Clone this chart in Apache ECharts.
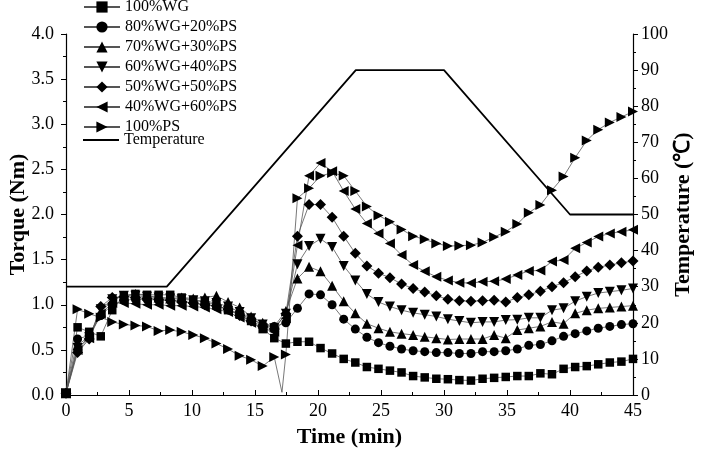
<!DOCTYPE html>
<html>
<head>
<meta charset="utf-8">
<script src="https://cdn.jsdelivr.net/npm/echarts@6/dist/echarts.min.js"></script>
<style>
html,body{margin:0;padding:0;background:#fff;}
#chart{width:709px;height:457px;}
</style>
</head>
<body>
<div id="chart"></div>
<script>
// Time (min) of each recorded point
const time = [0, 0.92, 1.84, 2.76, 3.67, 4.59, 5.51, 6.43, 7.35, 8.27,
  9.18, 10.10, 11.02, 11.94, 12.86, 13.78, 14.69, 15.61, 16.53, 17.45,
  18.37, 19.29, 20.20, 21.12, 22.04, 22.96, 23.88, 24.80, 25.71, 26.63,
  27.55, 28.47, 29.39, 30.31, 31.22, 32.14, 33.06, 33.98, 34.90, 35.82,
  36.73, 37.65, 38.57, 39.49, 40.41, 41.33, 42.24, 43.16, 44.08, 45.00];

const wg100 = [0.02, 0.75, 0.70, 0.65, 0.94, 1.10, 1.12, 1.11, 1.11, 1.11,
  1.08, 1.05, 1.03, 1.00, 0.94, 0.89, 0.82, 0.73, 0.63, 0.57,
  0.59, 0.59, 0.52, 0.46, 0.40, 0.36, 0.31, 0.29, 0.27, 0.25,
  0.21, 0.195, 0.18, 0.175, 0.165, 0.16, 0.18, 0.19, 0.20, 0.21,
  0.21, 0.24, 0.23, 0.29, 0.31, 0.32, 0.34, 0.36, 0.37, 0.40];

const wg80ps20 = [0.02, 0.62, 0.66, 0.88, 1.00, 1.05, 1.06, 1.06, 1.05, 1.05,
  1.04, 1.02, 1.00, 0.98, 0.95, 0.90, 0.84, 0.78, 0.76, 0.80,
  0.96, 1.12, 1.11, 1.00, 0.84, 0.73, 0.64, 0.58, 0.54, 0.51,
  0.49, 0.48, 0.47, 0.47, 0.46, 0.46, 0.48, 0.48, 0.49, 0.51,
  0.55, 0.56, 0.60, 0.65, 0.68, 0.71, 0.74, 0.76, 0.78, 0.79];

const wg70ps30 = [0.02, 0.55, 0.65, 0.92, 1.05, 1.10, 1.12, 1.10, 1.08, 1.07,
  1.08, 1.07, 1.08, 1.10, 1.03, 0.97, 0.87, 0.80, 0.76, 0.93,
  1.29, 1.42, 1.37, 1.21, 1.04, 0.905, 0.79, 0.74, 0.70, 0.68,
  0.665, 0.645, 0.63, 0.615, 0.62, 0.62, 0.62, 0.665, 0.63, 0.72,
  0.74, 0.76, 0.81, 0.79, 0.905, 0.94, 0.96, 0.97, 0.98, 0.99];

const wg60ps40 = [0.02, 0.52, 0.64, 0.95, 1.06, 1.10, 1.10, 1.09, 1.08, 1.07,
  1.06, 1.05, 1.04, 1.02, 0.98, 0.92, 0.85, 0.78, 0.74, 0.90,
  1.45, 1.65, 1.73, 1.64, 1.43, 1.27, 1.12, 1.03, 0.98, 0.94,
  0.91, 0.89, 0.87, 0.84, 0.82, 0.80, 0.81, 0.81, 0.83, 0.835,
  0.855, 0.855, 0.94, 0.96, 1.04, 1.09, 1.13, 1.145, 1.16, 1.18];

const wg50ps50 = [0.02, 0.47, 0.62, 0.98, 1.08, 1.09, 1.08, 1.07, 1.06, 1.05,
  1.03, 1.02, 1.00, 0.99, 0.95, 0.88, 0.82, 0.76, 0.73, 0.90,
  1.76, 2.11, 2.11, 1.97, 1.76, 1.57, 1.43, 1.35, 1.30, 1.23,
  1.18, 1.14, 1.10, 1.06, 1.045, 1.04, 1.045, 1.05, 1.03, 1.08,
  1.11, 1.15, 1.20, 1.245, 1.31, 1.375, 1.415, 1.44, 1.465, 1.485];

const wg40ps60 = [0.02, 0.50, 0.63, 0.90, 1.02, 1.02, 1.01, 1.00, 1.00, 0.99,
  0.99, 0.98, 0.97, 0.95, 0.92, 0.86, 0.80, 0.74, 0.70, 0.85,
  1.66, 2.43, 2.57, 2.48, 2.26, 2.06, 1.90, 1.79, 1.68, 1.55,
  1.44, 1.37, 1.31, 1.27, 1.245, 1.24, 1.255, 1.26, 1.285, 1.33,
  1.375, 1.38, 1.48, 1.495, 1.625, 1.69, 1.755, 1.79, 1.81, 1.83];

const ps100 = [0.02, 0.95, 0.90, 0.86, 0.81, 0.78, 0.77, 0.76, 0.71, 0.72,
  0.70, 0.665, 0.63, 0.57, 0.51, 0.435, 0.39, 0.32, 0.42, 0.45,
  2.18, 2.29, 2.43, 2.46, 2.43, 2.26, 2.09, 1.99, 1.92, 1.835,
  1.76, 1.725, 1.68, 1.65, 1.655, 1.66, 1.69, 1.75, 1.81, 1.895,
  2.02, 2.105, 2.27, 2.42, 2.63, 2.82, 2.94, 3.02, 3.08, 3.14];
// unmarked dip of the 100%PS trace between two recorded points
const ps100Dip = [17.14, 0.03];

// Temperature program
const tempTime = [0, 8, 23, 30, 40, 45];
const tempValue = [30, 30, 90, 90, 50, 50];

const seriesNames = ['100%WG', '80%WG+20%PS', '70%WG+30%PS', '60%WG+40%PS',
  '50%WG+50%PS', '40%WG+60%PS', '100%PS', 'Temperature'];

const FONT = '"Liberation Serif", "Times New Roman", serif';

function pairs(xs, ys) { return xs.map((x, i) => [x, ys[i]]); }

const psData = pairs(time, ps100);
psData.splice(19, 0, { value: ps100Dip, symbol: 'none' });

function torqueSeries(name, data, symbol, size, rotate) {
  return {
    name: name, type: 'line', data: data, yAxisIndex: 0,
    symbol: symbol, symbolSize: size, symbolRotate: rotate || 0,
    showAllSymbol: true,
    lineStyle: { color: '#555', width: 0.8 },
    itemStyle: { color: '#000', borderWidth: 0 },
    emphasis: { disabled: true },
    z: 3
  };
}

const legendText = { fontFamily: FONT, fontSize: 16, color: '#000', lineHeight: 16 };
const nameStyle = { fontFamily: FONT, fontSize: 22, fontWeight: 'bold', color: '#000' };

const chart = echarts.init(document.getElementById('chart'), null, { renderer: 'canvas' });
chart.setOption({
  animation: false,
  backgroundColor: '#fff',
  textStyle: { fontFamily: FONT, color: '#000' },
  grid: { left: 66, right: 76, top: 34, bottom: 62, containLabel: false, outerBoundsMode: 'none' },
  legend: [{
    orient: 'vertical', left: 78, top: -6,
    itemWidth: 36, itemHeight: 14, itemGap: 4,
    data: seriesNames.slice(0, 7),
    textStyle: legendText
  }, {
    orient: 'vertical', left: 78, top: 127,
    itemWidth: 36, itemHeight: 2, icon: 'rect',
    data: [seriesNames[7]],
    textStyle: legendText
  }],
  xAxis: {
    type: 'value', min: 0, max: 45, interval: 5,
    name: 'Time (min)', nameLocation: 'middle', nameGap: 31, nameMoveOverlap: false,
    nameTextStyle: nameStyle,
    axisLine: { show: true, onZero: false, lineStyle: { color: '#000', width: 1.2 } },
    axisTick: { show: true, inside: true, length: 5, lineStyle: { color: '#000', width: 1 } },
    minorTick: { show: true, splitNumber: 2, length: 3, lineStyle: { color: '#000', width: 1 } },
    axisLabel: { fontFamily: FONT, fontSize: 18, color: '#000', margin: 7 },
    splitLine: { show: false }
  },
  yAxis: [{
    type: 'value', min: 0, max: 4, interval: 0.5, position: 'left',
    name: 'Torque (Nm)', nameLocation: 'middle', nameGap: 37, nameMoveOverlap: false,
    nameTextStyle: nameStyle,
    axisLine: { show: true, onZero: false, lineStyle: { color: '#000', width: 1.2 } },
    axisTick: { show: true, inside: false, length: 5, lineStyle: { color: '#000', width: 1 } },
    minorTick: { show: true, splitNumber: 2, length: 3, lineStyle: { color: '#000', width: 1 } },
    axisLabel: { fontFamily: FONT, fontSize: 18, color: '#000', margin: 12,
      formatter: v => v.toFixed(1) },
    splitLine: { show: false }
  }, {
    type: 'value', min: 0, max: 100, interval: 10, position: 'right',
    name: 'Temperature (\u2103)', nameLocation: 'middle', nameGap: 39, nameRotate: 90,
    nameMoveOverlap: false,
    nameTextStyle: nameStyle,
    axisLine: { show: true, onZero: false, lineStyle: { color: '#000', width: 1.2 } },
    axisTick: { show: true, inside: false, length: 5, lineStyle: { color: '#000', width: 1 } },
    minorTick: { show: true, splitNumber: 2, length: 3, lineStyle: { color: '#000', width: 1 } },
    axisLabel: { fontFamily: FONT, fontSize: 18, color: '#000', margin: 8 },
    splitLine: { show: false }
  }],
  series: [
    torqueSeries(seriesNames[0], pairs(time, wg100), 'rect', 8.5),
    torqueSeries(seriesNames[1], pairs(time, wg80ps20), 'circle', 9),
    torqueSeries(seriesNames[2], pairs(time, wg70ps30), 'triangle', 10),
    torqueSeries(seriesNames[3], pairs(time, wg60ps40), 'triangle', 10, 180),
    torqueSeries(seriesNames[4], pairs(time, wg50ps50), 'diamond', 11),
    torqueSeries(seriesNames[5], pairs(time, wg40ps60), 'triangle', 10, 90),
    torqueSeries(seriesNames[6], psData, 'triangle', 10, -90),
    {
      name: seriesNames[7], type: 'line', yAxisIndex: 1,
      data: pairs(tempTime, tempValue), symbol: 'none',
      lineStyle: { color: '#000', width: 1.8 },
      itemStyle: { color: '#000' },
      emphasis: { disabled: true },
      z: 2
    }
  ]
});
</script>
</body>
</html>
